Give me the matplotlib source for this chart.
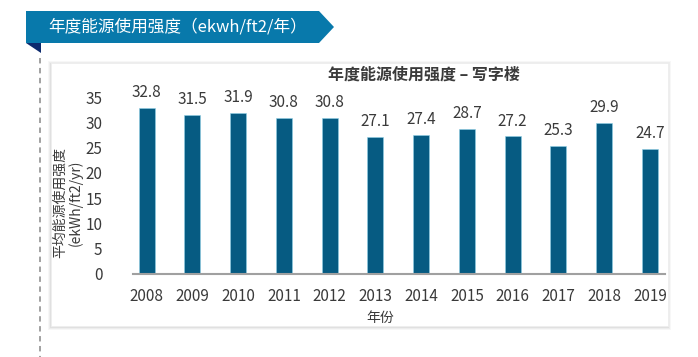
import matplotlib
matplotlib.use("Agg")
import matplotlib.pyplot as plt
from matplotlib.patches import Polygon, Rectangle

plt.rcParams["font.family"] = ["Noto Sans CJK SC", "DejaVu Sans"]

# data
years = ["2008", "2009", "2010", "2011", "2012", "2013",
         "2014", "2015", "2016", "2017", "2018", "2019"]
intensity = [32.8, 31.5, 31.9, 30.8, 30.8, 27.1,
             27.4, 28.7, 27.2, 25.3, 29.9, 24.7]
y_ticks = [0, 5, 10, 15, 20, 25, 30, 35]

header_text = "年度能源使用强度（ekwh/ft2/年）"
chart_title = "年度能源使用强度 – 写字楼"
x_label = "年份"
y_label = "平均能源使用强度\n(ekWh/ft2/yr)"

BAR_COLOR = "#065b82"
HEADER_BLUE = "#0879ab"
NAVY = "#0d2b6e"
TEXT = "#3a3a3a"

W, H = 698, 357
fig = plt.figure(figsize=(W / 100, H / 100), dpi=100)

# background layer in pixel coordinates
bg = fig.add_axes([0, 0, 1, 1], zorder=0)
bg.set_xlim(0, W)
bg.set_ylim(H, 0)
bg.axis("off")

# header banner with arrow tip
bg.add_patch(Polygon([(26, 11), (319, 11), (334, 27), (319, 43), (26, 43)],
                     closed=True, facecolor=HEADER_BLUE, edgecolor="none"))
bg.add_patch(Polygon([(26, 43), (41, 43), (41, 53)],
                     closed=True, facecolor=NAVY, edgecolor="none"))
bg.text(48, 27, header_text, color="white", fontsize=12,
        va="center", ha="left")

# dashed guide line
bg.plot([40, 40], [58, H], color="#9a9a9a", lw=1.3, ls=(0, (3, 2.5)))

# card with a soft shadow
for i, a in enumerate([0.03, 0.04, 0.05]):
    d = 3 - i
    bg.add_patch(Rectangle((51 - d, 63 - d + 1), 617 + 2 * d, 263 + 2 * d,
                           facecolor="#000000", alpha=a, edgecolor="none"))
bg.add_patch(Rectangle((51, 63), 617, 263, facecolor="white",
                       edgecolor="#eeeeee", lw=0.6))

bg.text(424, 75, chart_title, color=TEXT, fontsize=11.5,
        fontweight="bold", ha="center", va="center")
bg.text(380, 318, x_label, color=TEXT, fontsize=10,
        ha="center", va="center")
bg.text(68, 203, y_label, color=TEXT, fontsize=10,
        ha="center", va="center", rotation=90, linespacing=1.05)

# main bar chart
ax = fig.add_axes([133 / W, 1 - 274 / H, 532 / W, 177 / H], zorder=2)
ax.patch.set_alpha(0)
x = list(range(len(years)))
ax.bar(x, intensity, width=0.35, color=BAR_COLOR,
       edgecolor="#8fd0e6", linewidth=0.4)
for xi, v in zip(x, intensity):
    ax.annotate(f"{v}", (xi, v), xytext=(0, 5), textcoords="offset points",
                ha="center", va="bottom", fontsize=11, color=TEXT,
                annotation_clip=False)

ax.set_xlim(-0.3, len(years) - 1 + 0.33)
ax.set_ylim(0, 35)
ax.set_yticks(y_ticks)
ax.set_xticks(x)
ax.set_xticklabels(years)
ax.tick_params(axis="both", length=0, labelsize=11, labelcolor=TEXT)
ax.tick_params(axis="x", pad=10)
ax.tick_params(axis="y", pad=22)
for side in ["left", "right", "top"]:
    ax.spines[side].set_visible(False)
ax.spines["bottom"].set_color("#a0a0a0")
ax.spines["bottom"].set_linewidth(1.5)

fig.savefig("out.png", dpi=100)
